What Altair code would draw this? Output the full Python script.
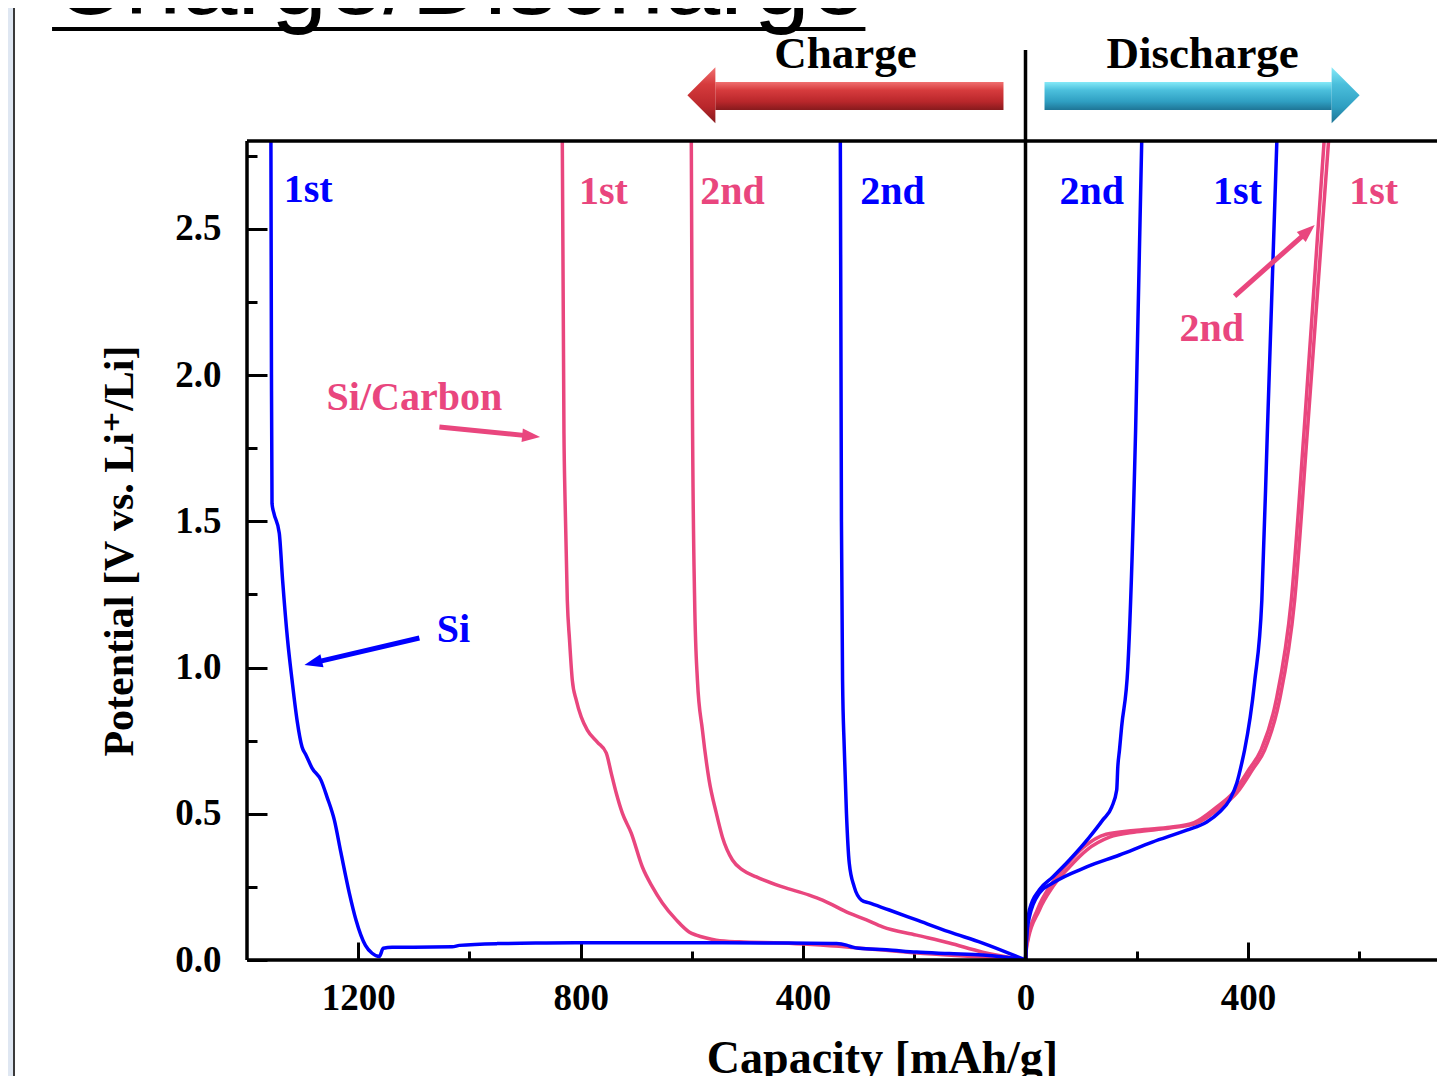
import altair as alt
import pandas as pd

SERIF = "Liberation Serif, Times New Roman, DejaVu Serif"
SANS = "Liberation Sans, Arial, DejaVu Sans"
BLUE = "#0000ff"
PINK = "#e9467e"
BLUE_TXT = "#3535ee"

# ---------------- curve data: capacity [mAh/g], potential [V] ----------------
# Charge side (plotted to the left of 0)
si_ch1_cap = [0, 40, 77, 137, 196, 250, 300, 311, 322, 340, 450, 600, 750, 862, 950, 1018, 1031, 1100,
              1139, 1155, 1162, 1175, 1187, 1204, 1216, 1231, 1243, 1256, 1267, 1283, 1294, 1301, 1310,
              1319, 1327, 1336, 1342, 1352, 1355, 1356, 1357]
si_ch1_v = [0.0, 0.01, 0.017, 0.022, 0.027, 0.035, 0.04, 0.044, 0.051, 0.056, 0.058, 0.059, 0.059, 0.058,
            0.056, 0.05, 0.045, 0.044, 0.044, 0.04, 0.012, 0.023, 0.05, 0.137, 0.229, 0.366, 0.479, 0.557,
            0.615, 0.656, 0.701, 0.728, 0.82, 0.957, 1.094, 1.299, 1.46, 1.53, 1.56, 2.0, 2.8]

si_ch2_cap = [0, 77, 137, 196, 245, 281, 295, 308, 317, 322, 326, 329, 331, 333]
si_ch2_v = [0.0, 0.058, 0.096, 0.137, 0.171, 0.195, 0.205, 0.25, 0.332, 0.502, 0.728, 0.957, 1.5, 2.8]

sic_ch1_cap = [0, 77, 196, 317, 437, 515, 556, 574, 592, 605, 628, 653, 671, 689, 709, 725, 736, 745,
               754, 770, 788, 799, 808, 815, 820, 824, 828, 830, 833]
sic_ch1_v = [0.0, 0.01, 0.024, 0.044, 0.058, 0.062, 0.068, 0.075, 0.085, 0.096, 0.137, 0.195, 0.25, 0.318,
             0.434, 0.502, 0.571, 0.639, 0.708, 0.745, 0.786, 0.831, 0.889, 0.957, 1.094, 1.23, 1.57,
             1.8, 2.8]

sic_ch2_cap = [0, 77, 137, 196, 257, 286, 317, 365, 389, 437, 484, 509, 527, 545, 556, 569, 581, 590,
               595, 599, 601]
sic_ch2_v = [0.0, 0.027, 0.058, 0.085, 0.113, 0.137, 0.16, 0.205, 0.222, 0.25, 0.284, 0.308, 0.342, 0.42,
             0.502, 0.615, 0.786, 0.957, 1.23, 1.9, 2.8]

# Discharge side (plotted to the right of 0)
si_dis1_cap = [0, 2, 7, 25, 49, 110, 169, 228, 290, 326, 349, 367, 380, 389, 394, 412, 425, 435, 452]
si_dis1_v = [0.0, 0.079, 0.147, 0.229, 0.263, 0.318, 0.359, 0.403, 0.444, 0.472, 0.506, 0.547, 0.605,
             0.674, 0.718, 0.95, 1.23, 1.81, 2.8]

si_dis2_cap = [0, 2, 7, 25, 49, 79, 115, 139, 155, 164, 166, 169, 173, 184, 198, 209]
si_dis2_v = [0.0, 0.08, 0.171, 0.24, 0.284, 0.342, 0.42, 0.479, 0.523, 0.581, 0.66, 0.718, 0.8, 1.0,
             1.81, 2.8]

sic_dis1_cap = [0, 2, 25, 49, 79, 110, 151, 200, 259, 308, 349, 380, 408, 430, 457, 484, 507, 545]
sic_dis1_v = [0.0, 0.044, 0.171, 0.25, 0.318, 0.376, 0.42, 0.438, 0.451, 0.468, 0.52, 0.571, 0.65,
              0.718, 0.89, 1.23, 1.81, 2.8]

sic_dis2_cap = [0, 2, 22, 45, 74, 104, 145, 195, 255, 303, 343, 374, 402, 424, 451, 478, 501, 537]
sic_dis2_v = [0.0, 0.05, 0.175, 0.255, 0.325, 0.385, 0.43, 0.443, 0.453, 0.47, 0.522, 0.573, 0.652,
              0.72, 0.89, 1.23, 1.81, 2.8]

curves = [
    ("Si charge 1st", "Si", -1, si_ch1_cap, si_ch1_v),
    ("Si charge 2nd", "Si", -1, si_ch2_cap, si_ch2_v),
    ("Si discharge 1st", "Si", 1, si_dis1_cap, si_dis1_v),
    ("Si discharge 2nd", "Si", 1, si_dis2_cap, si_dis2_v),
    ("SiC charge 1st", "Si/Carbon", -1, sic_ch1_cap, sic_ch1_v),
    ("SiC charge 2nd", "Si/Carbon", -1, sic_ch2_cap, sic_ch2_v),
    ("SiC discharge 1st", "Si/Carbon", 1, sic_dis1_cap, sic_dis1_v),
    ("SiC discharge 2nd", "Si/Carbon", 1, sic_dis2_cap, sic_dis2_v),
]
rows = []
for name, mat, sign, caps, vs in curves:
    for i, (c, v) in enumerate(zip(caps, vs)):
        rows.append({"curve": name, "material": mat, "x": sign * c, "v": v, "i": i})
df = pd.DataFrame(rows)

# axis ticks (signed capacity; labels show absolute value)
x_major = [-1200, -800, -400, 0, 400]
x_minor = [-1000, -600, -200, 200, 600]
y_major = [0.0, 0.5, 1.0, 1.5, 2.0, 2.5]
y_minor = [0.25, 0.75, 1.25, 1.75, 2.25, 2.75]

# text annotations (in data coordinates)
lab_text = ["1st", "1st", "2nd", "2nd", "2nd", "1st", "1st", "2nd", "Si/Carbon", "Si"]
lab_x = [-1290, -759, -527, -239, 119, 381, 626, 335, -1099, -1029]
lab_y = [2.632, 2.626, 2.626, 2.626, 2.626, 2.626, 2.626, 2.157, 1.921, 1.128]
lab_mat = ["Si", "Si/Carbon", "Si/Carbon", "Si", "Si", "Si", "Si/Carbon", "Si/Carbon", "Si/Carbon", "Si"]
labels = pd.DataFrame({"text": lab_text, "x": lab_x, "y": lab_y, "material": lab_mat})

# pointer arrows: tail -> head centre, with direction angle
arr_x = [-1054, -1090, 376]
arr_y = [1.822, 1.101, 2.270]
arr_x2 = [-889, -1281, 508]
arr_y2 = [1.791, 1.016, 2.492]
arr_ang = [95.7, 256.8, 48.4]
arr_mat = ["Si/Carbon", "Si", "Si/Carbon"]
arrows = pd.DataFrame({"x": arr_x, "y": arr_y, "x2": arr_x2, "y2": arr_y2, "ang": arr_ang, "material": arr_mat})

xs = alt.Scale(domain=[-1400, 740], nice=False, zero=False)
ys = alt.Scale(domain=[0, 2.8], nice=False, zero=False)
cs = alt.Scale(domain=["Si", "Si/Carbon"], range=[BLUE, PINK])
ts = alt.Scale(domain=["Si", "Si/Carbon"], range=[BLUE_TXT, PINK])

ax_x = alt.Axis(values=x_major, labelExpr="abs(datum.value)", orient="bottom", offset=-18, tickSize=18,
                tickWidth=3, tickColor="black", domain=False, grid=False, labelFont=SERIF,
                labelFontSize=37, labelFontWeight="bold", labelColor="black", labelPadding=20,
                labelFlush=False, labelOverlap=False, title="Capacity [mAh/g]", titleFont=SERIF,
                titleFontSize=46, titleFontWeight="bold", titleColor="black", titleX=635, titlePadding=20)
ax_y = alt.Axis(values=y_major, format=".1f", orient="left", offset=-20, tickSize=20, tickWidth=3,
                tickColor="black", domain=False, grid=False, labelFont=SERIF, labelFontSize=37,
                labelFontWeight="bold", labelColor="black", labelPadding=26, labelFlush=False,
                title="Potential [V vs. Li\u207a/Li]", titleFont=SERIF, titleFontSize=42,
                titleFontWeight="bold", titleColor="black", titlePadding=33)
ax_x_minor = alt.Axis(values=x_minor, orient="bottom", offset=-9, tickSize=9, tickWidth=3,
                      tickColor="black", domain=False, grid=False, labels=False, title="")
ax_y_minor = alt.Axis(values=y_minor, orient="left", offset=-10, tickSize=10, tickWidth=3,
                      tickColor="black", domain=False, grid=False, labels=False, title="")

pink_df = df[df.material == "Si/Carbon"]
blue_df = df[df.material == "Si"]

pink_lines = alt.Chart(pink_df).mark_line(strokeWidth=3.5, clip=True, interpolate="monotone").encode(
    x=alt.X("x:Q", scale=xs, axis=ax_x),
    y=alt.Y("v:Q", scale=ys, axis=ax_y),
    color=alt.Color("material:N", scale=cs, legend=None),
    detail="curve:N", order="i:Q")
blue_lines = alt.Chart(blue_df).mark_line(strokeWidth=3.5, clip=True, interpolate="monotone").encode(
    x=alt.X("x:Q", scale=xs, axis=ax_x_minor),
    y=alt.Y("v:Q", scale=ys, axis=ax_y_minor),
    color=alt.Color("material:N", scale=cs, legend=None),
    detail="curve:N", order="i:Q")

# frame: left axis line, bottom axis line, top border, zero divider (extends above plot)
frame = pd.DataFrame({"x": [-1400, -1400, -1400, 0], "x2": [-1400, 740, 740, 0],
                      "y": [0, 0, 2.8, 0], "y2": [2.8, 0, 2.8, 3.111]})
frame_rules = alt.Chart(frame).mark_rule(color="black", strokeWidth=3.5, clip=False).encode(
    x=alt.X("x:Q", scale=xs, axis=None), x2="x2:Q",
    y=alt.Y("y:Q", scale=ys, axis=None), y2="y2:Q")

texts = alt.Chart(labels).mark_text(font=SERIF, fontSize=40, fontWeight="bold", baseline="middle",
                                    align="center").encode(
    x=alt.X("x:Q", scale=xs, axis=None), y=alt.Y("y:Q", scale=ys, axis=None), text="text:N",
    color=alt.Color("material:N", scale=ts, legend=None))

arrow_shafts = alt.Chart(arrows).mark_rule(strokeWidth=5).encode(
    x=alt.X("x:Q", scale=xs, axis=None), x2="x2:Q",
    y=alt.Y("y:Q", scale=ys, axis=None), y2="y2:Q",
    color=alt.Color("material:N", scale=ts, legend=None))
arrow_heads = alt.Chart(arrows).mark_point(shape="M0,-1L0.75,1L-0.75,1Z", filled=True, size=324,
                                           opacity=1).encode(
    x=alt.X("x2:Q", scale=xs, axis=None), y=alt.Y("y2:Q", scale=ys, axis=None),
    angle=alt.Angle("ang:Q", scale=None),
    color=alt.Color("material:N", scale=ts, legend=None))

# ---------------- header decorations: Charge / Discharge arrows ----------------
red_grad = alt.LinearGradient(gradient="linear", x1=0, x2=0, y1=0, y2=1, stops=[
    alt.GradientStop(color="#f07070", offset=0), alt.GradientStop(color="#d63b3d", offset=0.3),
    alt.GradientStop(color="#b9272b", offset=0.7), alt.GradientStop(color="#871a1d", offset=1)])
cyan_grad = alt.LinearGradient(gradient="linear", x1=0, x2=0, y1=0, y2=1, stops=[
    alt.GradientStop(color="#86eaf8", offset=0), alt.GradientStop(color="#4bbfdc", offset=0.3),
    alt.GradientStop(color="#2f9fc2", offset=0.7), alt.GradientStop(color="#1e7596", offset=1)])

hdr_shaft = pd.DataFrame({"side": ["Charge", "Discharge"], "x": [-557.8, 34.2], "x2": [-39.6, 550.6],
                          "y": [3.002, 3.002], "y2": [2.906, 2.906]})
hdr_head = pd.DataFrame({"side": ["Charge", "Discharge"], "x": [-582.9, 575.7], "y": [2.956, 2.956]})
hdr_text = pd.DataFrame({"text": ["Charge", "Discharge"], "x": [-323.9, 318.5], "y": [3.05, 3.05]})

red_shaft = alt.Chart(hdr_shaft[hdr_shaft.side == "Charge"]).mark_rect(color=red_grad, clip=False).encode(
    x=alt.X("x:Q", scale=xs, axis=None), x2="x2:Q", y=alt.Y("y:Q", scale=ys, axis=None), y2="y2:Q")
cyan_shaft = alt.Chart(hdr_shaft[hdr_shaft.side == "Discharge"]).mark_rect(color=cyan_grad, clip=False).encode(
    x=alt.X("x:Q", scale=xs, axis=None), x2="x2:Q", y=alt.Y("y:Q", scale=ys, axis=None), y2="y2:Q")
red_head = alt.Chart(hdr_head[hdr_head.side == "Charge"]).mark_point(
    shape="M-0.5,0L0.5,-1L0.5,1Z", filled=True, size=3136, opacity=1, color=red_grad, clip=False).encode(
    x=alt.X("x:Q", scale=xs, axis=None), y=alt.Y("y:Q", scale=ys, axis=None))
cyan_head = alt.Chart(hdr_head[hdr_head.side == "Discharge"]).mark_point(
    shape="M0.5,0L-0.5,-1L-0.5,1Z", filled=True, size=3136, opacity=1, color=cyan_grad, clip=False).encode(
    x=alt.X("x:Q", scale=xs, axis=None), y=alt.Y("y:Q", scale=ys, axis=None))
hdr_texts = alt.Chart(hdr_text).mark_text(font=SERIF, fontSize=45, fontWeight="bold", color="black",
                                          baseline="alphabetic", align="center", clip=False).encode(
    x=alt.X("x:Q", scale=xs, axis=None), y=alt.Y("y:Q", scale=ys, axis=None), text="text:N")

# slide heading (cut off at the top of the screenshot) and its underline
heading = pd.DataFrame({"text": ["Charge/Discharge"], "x": [-1750.6], "y": [3.234]})
heading_text = alt.Chart(heading).mark_text(font=SANS, fontSize=101, color="black", align="left",
                                            baseline="alphabetic", clip=False).encode(
    x=alt.X("x:Q", scale=xs, axis=None), y=alt.Y("y:Q", scale=ys, axis=None), text="text:N")
underline = pd.DataFrame({"x": [-1750.6], "x2": [-287.9], "y": [3.183]})
heading_rule = alt.Chart(underline).mark_rule(color="black", strokeWidth=4, clip=False).encode(
    x=alt.X("x:Q", scale=xs, axis=None), x2="x2:Q", y=alt.Y("y:Q", scale=ys, axis=None))

# slide left edge strip
strip = pd.DataFrame({"x": [-1835], "x2": [-1819], "y": [-0.5], "y2": [3.5]})
strip_rect = alt.Chart(strip).mark_rect(color="#dfe7f2", clip=False).encode(
    x=alt.X("x:Q", scale=xs, axis=None), x2="x2:Q", y=alt.Y("y:Q", scale=ys, axis=None), y2="y2:Q")
strip_line = alt.Chart(strip).mark_rule(color="#3a3a3a", strokeWidth=2, clip=False).encode(
    x=alt.X("x2:Q", scale=xs, axis=None), y=alt.Y("y:Q", scale=ys, axis=None), y2="y2:Q")

chart = alt.layer(
    strip_rect, strip_line, heading_text, heading_rule,
    red_shaft, red_head, cyan_shaft, cyan_head, hdr_texts,
    pink_lines, blue_lines, frame_rules, arrow_shafts, arrow_heads, texts,
).resolve_axis(x="independent", y="independent").properties(
    width=1190, height=819,
    padding={"left": 239, "top": 133, "right": 0, "bottom": 116},
    autosize=alt.AutoSizeParams(type="none"),
    background="white",
).configure_view(strokeWidth=0)

chart.save("out.html", embed_options={"renderer": "svg", "actions": False})
